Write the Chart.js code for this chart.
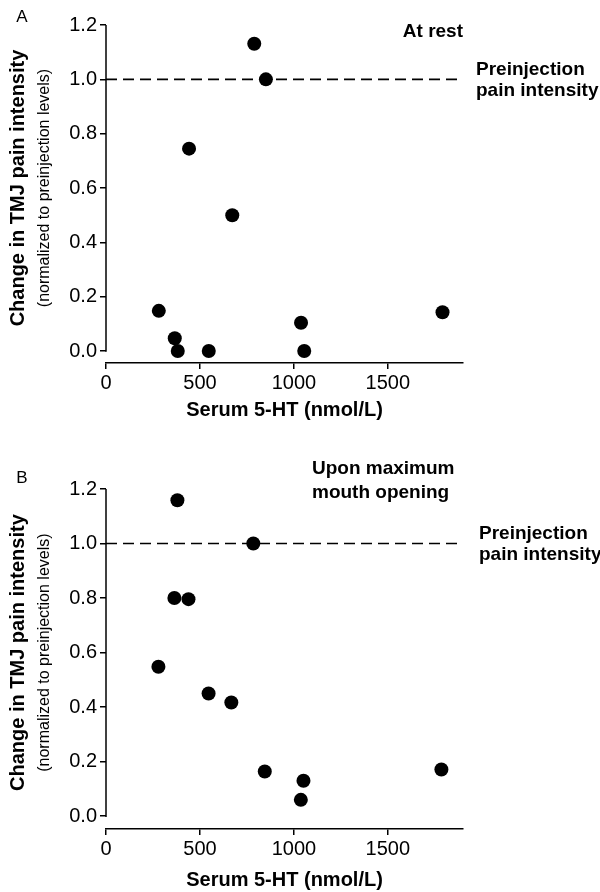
<!DOCTYPE html>
<html>
<head>
<meta charset="utf-8">
<script src="https://cdn.jsdelivr.net/npm/chart.js@4.4.0/dist/chart.umd.min.js"></script>
<style>
  html, body { margin: 0; padding: 0; background: #fff; }
  .panel { position: relative; width: 600px; }
  canvas { display: block; }
</style>
</head>
<body>
<div class="panel" style="height:430px"><canvas id="chartA" width="600" height="430"></canvas></div>
<div class="panel" style="height:462px"><canvas id="chartB" width="600" height="462"></canvas></div>
<script>
// Serum 5-HT (nmol/L) per subject
const serumA = [281, 366, 382, 442, 547, 672, 789, 851, 1038, 1055, 1791];
const restA = [0.148, 0.047, 0, 0.745, 0, 0.50, 1.131, 1.0, 0.104, 0, 0.143];

const serumB = [279, 364, 380, 439, 546, 667, 784, 845, 1037, 1051, 1785];
const openingB = [0.548, 0.80, 1.159, 0.796, 0.45, 0.417, 1.0, 0.164, 0.060, 0.130, 0.171];

const xTicks = [0, 500, 1000, 1500];
const yTicks = [0, 0.2, 0.4, 0.6, 0.8, 1.0, 1.2];
const xMax = 1900;
const preinjectionLevel = 1.0;

const FONT = "'Liberation Sans', Arial, Helvetica, sans-serif";

// draws the panel letter, titles and the text labels next to the data
const annotations = {
  id: 'annotations',
  afterDraw(chart, args, opts) {
    const { ctx } = chart;
    const x = chart.scales.x;
    const y = chart.scales.y;
    const y0 = y.getPixelForValue(0);
    const yTop = y.getPixelForValue(yTicks[yTicks.length - 1]);
    const yMid = (y0 + yTop) / 2;

    ctx.save();
    // y axis line only spans 0 .. 1.2
    ctx.strokeStyle = '#000';
    ctx.lineWidth = 1.5;
    ctx.beginPath();
    ctx.moveTo(x.getPixelForValue(0), y0 + 0.75);
    ctx.lineTo(x.getPixelForValue(0), yTop);
    ctx.stroke();

    ctx.fillStyle = '#000';
    ctx.textBaseline = 'middle';

    // panel letter
    ctx.font = '17px ' + FONT;
    ctx.textAlign = 'center';
    ctx.fillText(opts.letter, 22, opts.letterY);

    // y titles
    ctx.save();
    ctx.translate(18, yMid);
    ctx.rotate(-Math.PI / 2);
    ctx.font = 'bold 20px ' + FONT;
    ctx.fillText('Change in TMJ pain intensity', 0, 0);
    ctx.restore();
    ctx.save();
    ctx.translate(45, yMid);
    ctx.rotate(-Math.PI / 2);
    ctx.font = '16px ' + FONT;
    ctx.fillText('(normalized to preinjection levels)', 0, 0);
    ctx.restore();

    // x title
    ctx.font = 'bold 20px ' + FONT;
    ctx.fillText('Serum 5-HT (nmol/L)', (x.left + x.right) / 2, chart.chartArea.bottom + opts.xTitleGap);

    // condition label
    ctx.font = 'bold 19px ' + FONT;
    ctx.textAlign = opts.condAlign;
    const condX = opts.condAlign === 'right' ? x.getPixelForValue(xMax) : opts.condX;
    opts.condition.forEach((line, i) => {
      ctx.fillText(line, condX, opts.condY + i * 24);
    });

    // dashed line label
    ctx.textAlign = 'left';
    const yLine = y.getPixelForValue(preinjectionLevel);
    ctx.fillText('Preinjection', x.right + opts.labelGap, yLine - 10);
    ctx.fillText('pain intensity', x.right + opts.labelGap, yLine + 11);
    ctx.restore();
  }
};

function makePanel(id, xs, ys, cfg) {
  const points = xs.map((v, i) => ({ x: v, y: ys[i] }));
  return new Chart(document.getElementById(id), {
    type: 'scatter',
    data: {
      datasets: [
        {
          data: points,
          backgroundColor: '#000',
          borderWidth: 0,
          pointRadius: 7,
          pointHoverRadius: 7,
          clip: false,
          order: 0,
        },
        {
          type: 'line',
          data: [{ x: 0, y: preinjectionLevel }, { x: xMax, y: preinjectionLevel }],
          borderColor: '#000',
          borderWidth: 1.6,
          borderDash: [11, 6],
          pointRadius: 0,
          fill: false,
          order: 1,
        },
      ],
    },
    options: {
      responsive: false,
      animation: false,
      events: [],
      layout: { padding: { left: 0, right: 137, top: cfg.top, bottom: 0 } },
      plugins: {
        legend: { display: false },
        tooltip: { enabled: false },
        annotations: cfg.notes,
      },
      scales: {
        x: {
          type: 'linear',
          min: 0,
          max: xMax,
          afterBuildTicks: (scale) => { scale.ticks = xTicks.map(v => ({ value: v })); },
          afterFit: (scale) => { scale.height = cfg.xHeight; },
          grid: { drawOnChartArea: false, drawTicks: true, tickLength: 6, color: '#000', lineWidth: 1.5 },
          border: { display: true, color: '#000', width: 1.5 },
          ticks: { color: '#000', font: { family: FONT, size: 20 }, padding: 2, maxRotation: 0, callback: (v) => String(v) },
        },
        y: {
          type: 'linear',
          min: cfg.yMin,
          max: 1.2,
          afterBuildTicks: (scale) => { scale.ticks = yTicks.map(v => ({ value: v })); },
          afterFit: (scale) => { scale.width = 106; },
          grid: { drawOnChartArea: false, drawTicks: true, tickLength: 6, color: '#000', lineWidth: 1.5 },
          border: { display: false },
          ticks: { color: '#000', font: { family: FONT, size: 20 }, padding: 3, callback: (v) => v.toFixed(1) },
        },
      },
    },
    plugins: [annotations],
  });
}

makePanel('chartA', serumA, restA, {
  top: 25, xHeight: 67, yMin: -0.044,
  notes: { letter: 'A', letterY: 17, xTitleGap: 47, condition: ['At rest'], condAlign: 'right', condY: 32, labelGap: 13 },
});

makePanel('chartB', serumB, openingB, {
  top: 59, xHeight: 63, yMin: -0.047,
  notes: { letter: 'B', letterY: 48, xTitleGap: 51, condition: ['Upon maximum', 'mouth opening'], condAlign: 'left', condX: 312, condY: 39, labelGap: 16 },
});
</script>
</body>
</html>
